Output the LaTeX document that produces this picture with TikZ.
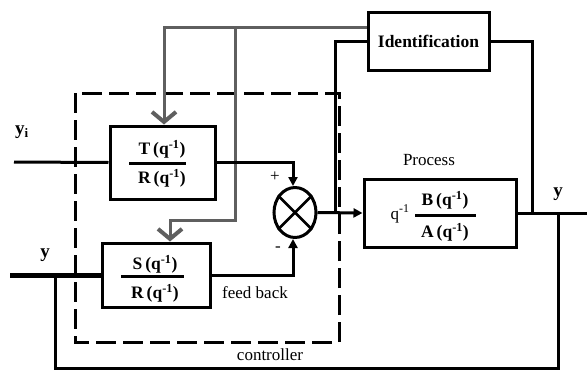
\documentclass[tikz,border=0pt]{standalone}
\usepackage{fontspec}
\setmainfont{Liberation Serif}
\usetikzlibrary{arrows.meta,shapes.geometric}
\begin{document}
\begin{tikzpicture}[x=1pt,y=-1pt,
  blk/.style={draw, line width=3pt, rectangle, inner sep=0pt},
  wire/.style={line width=3pt, line join=miter},
  gwire/.style={line width=3pt, draw={rgb,255:red,95;green,95;blue,95}},
  arr/.style={-{Triangle[length=9pt,width=9pt]}},
  garr/.style={-{Straight Barb[length=10pt,width=24pt,line width=4pt]}},
  frac/.style={font=\fontsize{17.5}{20}\selectfont\bfseries, inner sep=0pt},
  bar/.style={line width=3pt},
  lbl/.style={font=\fontsize{17}{20}\selectfont, inner sep=0pt},
  ylbl/.style={font=\fontsize{19}{22}\selectfont\bfseries, inner sep=0pt}]
\useasboundingbox (0,0) rectangle (587,370);

% blocks
\node[blk, minimum width=105pt, minimum height=73pt] (T) at (162.5,162.5) {};
\node[blk, minimum width=108pt, minimum height=64pt] (S) at (156,275) {};
\node[blk, minimum width=152pt, minimum height=68pt] (P) at (440,213) {};
\node[blk, minimum width=121pt, minimum height=58pt, font=\fontsize{17.5}{20}\selectfont\bfseries] (I) at (428.5,41) {Identification};
\node[draw, ellipse, line width=3pt, minimum width=42pt, minimum height=50pt, inner sep=0pt] (sum) at (295,212.5) {};
\draw[line width=2.5pt] (sum.135) -- (sum.-45) (sum.45) -- (sum.-135);

% fractions
\node[frac] (Tn) at (162,149) {T\,(q\textsuperscript{-1})};
\node[frac] (Td) at (162,178) {R\,(q\textsuperscript{-1})};
\coordinate (Tb1) at (129,163); \coordinate (Tb2) at (186,163);
\draw[bar] (Tb1) -- (Tb2);
\node[frac] (Sn) at (155,264) {S\,(q\textsuperscript{-1})};
\node[frac] (Sd) at (155,293) {R\,(q\textsuperscript{-1})};
\coordinate (Sb1) at (121,276); \coordinate (Sb2) at (184,276);
\draw[bar] (Sb1) -- (Sb2);
\node[frac, font=\fontsize{17}{20}\selectfont] (Pq) at (400,214) {q\textsuperscript{-1}};
\node[frac] (Pn) at (445,200) {B\,(q\textsuperscript{-1})};
\node[frac] (Pd) at (445,232) {A\,(q\textsuperscript{-1})};
\coordinate (Pb1) at (415,215); \coordinate (Pb2) at (476,215);
\draw[bar] (Pb1) -- (Pb2);

% controller dashed box
\coordinate (c1) at (75,93); \coordinate (c2) at (339,342);
\draw[line width=3pt, dash pattern=on 20pt off 7pt] (c1) rectangle (c2);

% gray identification lines
\coordinate (gI) at ([yshift=14pt]I.west);
\coordinate (g2) at (235,27);
\coordinate (g3) at (235,220);
\coordinate (Sa) at ([xshift=14pt]S.north);
\draw[gwire, garr] (gI) -| ([xshift=1.5pt]T.north);
\draw[gwire, garr, line join=miter] (g2) -- (g3) -| (Sa);

% signal lines
\coordinate (yi) at (14,162);
\draw[wire] (yi) -- (T.west);
\draw[wire, arr] (T.east) -| ([xshift=-2pt]sum.north);
\coordinate (yin) at (10,275);
\draw[line width=5pt] (yin) -- (S.west);
\draw[wire, arr] (S.east) -| ([xshift=-2pt]sum.south);
\draw[wire, arr] (sum.east) -- (P.west);
\coordinate (yout) at (587,213);
\draw[wire] (P.east) -- (yout);
\coordinate (br1) at (532,213);
\draw[wire] (br1) |- (I.east);
\coordinate (br2) at (335,213);
\draw[wire] (br2) |- (I.west);
\coordinate (fb1) at (55,275);
\coordinate (fb2) at (558,213);
\draw[wire] (fb1) -- (55,368) -| (fb2);

% labels
\node[ylbl] (lyi) at (22,132) {y\textsubscript{\fontsize{13}{14}\selectfont i}};
\node[ylbl] (ly) at (45,255) {y};
\node[ylbl] (ly2) at (558,194) {y};
\node[lbl] (plus) at (275,177) {+};
\node[lbl] (minus) at (278,249) {-};
\node[lbl] (proc) at (429,160) {Process};
\node[lbl] (fbk) at (255,293) {feed back};
\node[lbl] (ctl) at (270,355) {controller};
\end{tikzpicture}
\end{document}
